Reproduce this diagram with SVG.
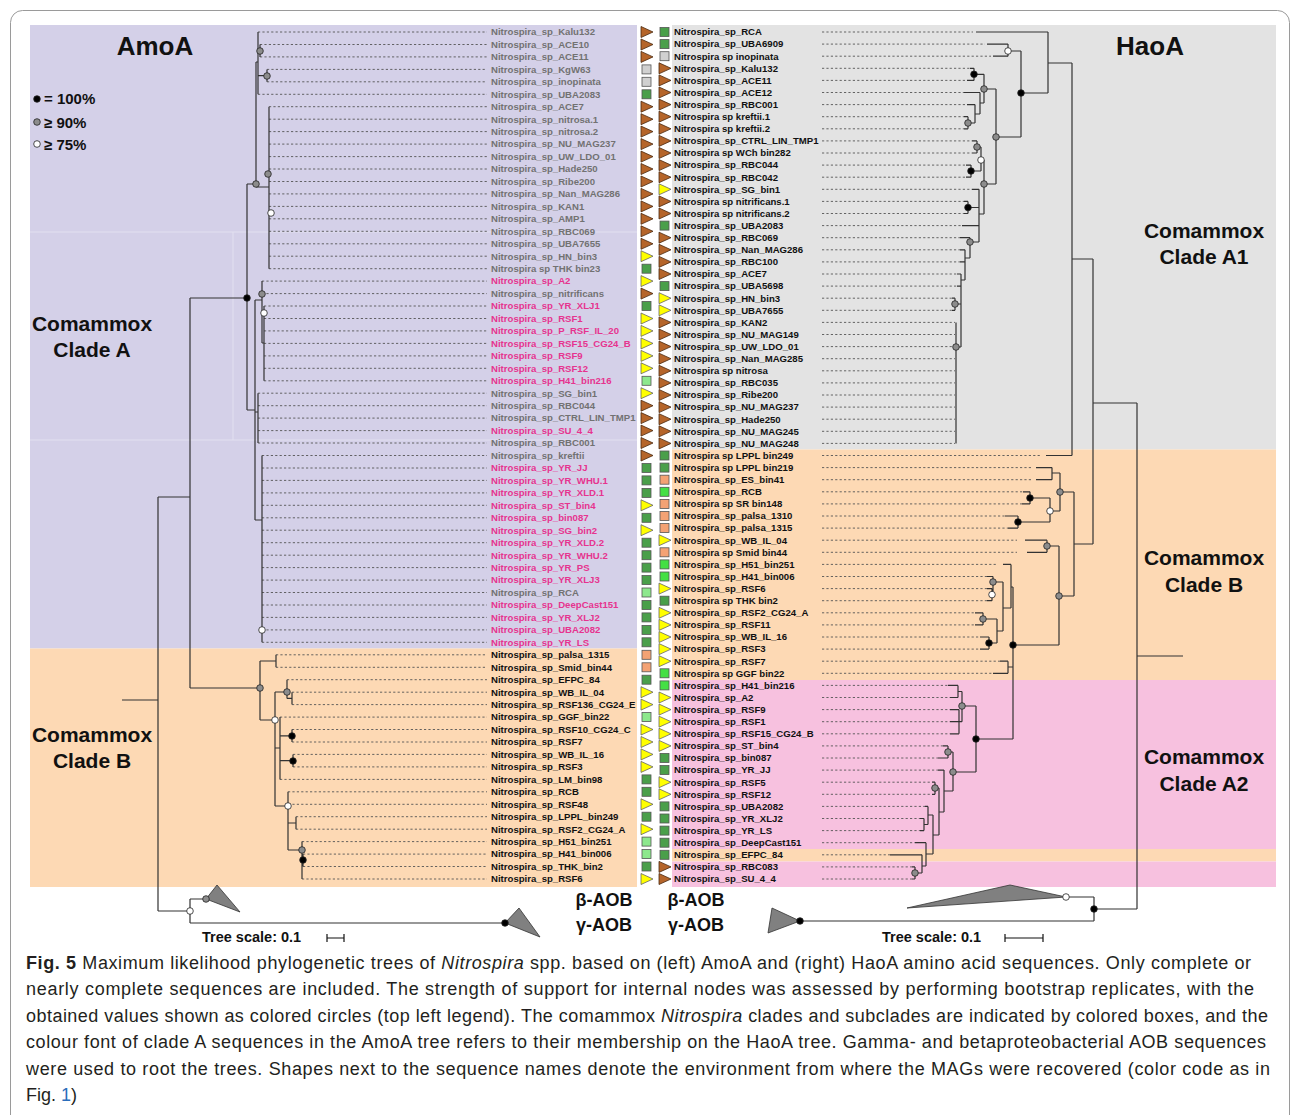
<svg xmlns="http://www.w3.org/2000/svg" width="1292" height="1115" viewBox="0 0 1292 1115">
<style>
.lab{font-family:"Liberation Sans",Arial,sans-serif;font-weight:bold;font-size:9.6px}
.g{fill:#727272}.p{fill:#e6348f}.k{fill:#111}
.title{font-family:"Liberation Sans",Arial,sans-serif;font-weight:bold;font-size:26px;fill:#111;text-anchor:middle}
.clade{font-family:"Liberation Sans",Arial,sans-serif;font-weight:bold;font-size:21px;fill:#111;text-anchor:middle}
.leg{font-family:"Liberation Sans",Arial,sans-serif;font-weight:bold;font-size:15px;fill:#111}
.aob{font-family:"Liberation Sans",Arial,sans-serif;font-weight:bold;font-size:18px;fill:#111;text-anchor:middle}
.sc{font-family:"Liberation Sans",Arial,sans-serif;font-weight:bold;font-size:14.5px;fill:#111}
.cap{font-family:"Liberation Sans",Arial,sans-serif;font-size:18px;fill:#231f20}
.tree{fill:none;stroke:#333;stroke-width:1.2}
.dash{fill:none;stroke:#555;stroke-width:0.9;stroke-dasharray:2.2 2.2}
.cb{fill:#000;stroke:#222;stroke-width:0.8}
.cg{fill:#8c8c8c;stroke:#222;stroke-width:0.8}
.cw{fill:#fff;stroke:#222;stroke-width:0.8}
.tri{fill:#808080;stroke:#333;stroke-width:0.8}
</style>
<defs>
<polygon id="tb" points="0,-5.5 12,0 0,5.5" fill="#b5652a" stroke="#4a2a10" stroke-width="0.8"/>
<polygon id="ty" points="0,-5.5 12,0 0,5.5" fill="#ffff00" stroke="#666" stroke-width="0.8"/>
<rect id="sg" x="0" y="-4.5" width="9" height="9" fill="#4a9f4a" stroke="#555" stroke-width="0.8"/>
<rect id="sl" x="0" y="-4.5" width="9" height="9" fill="#8de88d" stroke="#555" stroke-width="0.8"/>
<rect id="sb" x="0" y="-4.5" width="9" height="9" fill="#44e044" stroke="#555" stroke-width="0.8"/>
<rect id="sx" x="0" y="-4.5" width="9" height="9" fill="#d0d0d0" stroke="#555" stroke-width="0.8"/>
<rect id="so" x="0" y="-4.5" width="9" height="9" fill="#f4a274" stroke="#555" stroke-width="0.8"/>
</defs>
<rect x="0" y="0" width="1292" height="1115" fill="#fff"/>
<rect x="10.5" y="10.5" width="1279" height="1160" rx="12" fill="none" stroke="#9a9a9a" stroke-width="1"/>
<g id="backgrounds">
<rect x="30" y="25" width="607" height="623.5" fill="#d4d0e8"/>
<rect x="30" y="648.5" width="607" height="238.5" fill="#fdd9b4"/>
<path d="M30 232H637M30 440H637M233 232V440" stroke="#e2e0f0" stroke-width="1" fill="none"/>
<rect x="672" y="25" width="604" height="424.5" fill="#e3e3e3"/>
<rect x="672" y="449.5" width="604" height="230.5" fill="#fdd9b4"/>
<rect x="672" y="680" width="604" height="169" fill="#f7c1df"/>
<rect x="672" y="849" width="604" height="12.5" fill="#fdd9b4"/>
<rect x="672" y="861.5" width="604" height="25.5" fill="#f7c1df"/>
</g>
<g id="titles">
<text class="title" x="155" y="55">AmoA</text>
<text class="title" x="1150" y="55">HaoA</text>
<text class="clade" x="92" y="331">Comammox</text><text class="clade" x="92" y="357">Clade A</text>
<text class="clade" x="92" y="742">Comammox</text><text class="clade" x="92" y="768">Clade B</text>
<text class="clade" x="1204" y="238">Comammox</text><text class="clade" x="1204" y="264">Clade A1</text>
<text class="clade" x="1204" y="565">Comammox</text><text class="clade" x="1204" y="592">Clade B</text>
<text class="clade" x="1204" y="764">Comammox</text><text class="clade" x="1204" y="791">Clade A2</text>
</g>
<g id="legend">
<circle class="cb" cx="37" cy="99" r="3.3"/><text class="leg" x="44" y="104">= 100%</text>
<circle class="cg" cx="37" cy="122" r="3.3"/><text class="leg" x="44" y="127.5">≥ 90%</text>
<circle class="cw" cx="37" cy="144" r="3.3"/><text class="leg" x="44" y="149.5">≥ 75%</text>
</g>
<g id="connectors">
<path class="dash" d="M258 32H487M260 44.5H487M260 56.9H487M267 69.4H487M267 81.8H487M258 94.3H487M269 106.7H487M269 119.2H487M269 131.6H487M269 144.1H487M269 156.6H487M269 169H487M269 181.5H487M269 193.9H487M269 206.4H487M269 218.8H487M269 231.3H487M269 243.8H487M269 256.2H487M269 268.7H487M262 281.1H487M262 293.6H487M264 306H487M264 318.5H487M264 330.9H487M264 343.4H487M264 355.9H487M264 368.3H487M264 380.8H487M258 393.2H487M258 405.7H487M258 418.1H487M258 430.6H487M258 443H487M262 455.5H487M262 468H487M262 480.4H487M262 492.9H487M262 505.3H487M262 517.8H487M262 530.2H487M262 542.7H487M262 555.2H487M262 567.6H487M262 580.1H487M262 592.5H487M262 605H487M262 617.4H487M262 629.9H487M262 642.3H487M276 654.8H487M276 667.3H487M287 679.7H487M292 692.2H487M292 704.6H487M280 717.1H487M292 729.5H487M292 742H487M293 754.4H487M293 766.9H487M280 779.4H487M288 791.8H487M288 804.3H487M296 816.7H487M296 829.2H487M302 841.6H487M303 854.1H487M303 866.5H487M302 879H487"/>
<path class="tree" d="M122 700H158M158 497V911M158 497H190M158 911H190M190 298V688M190 298H247M190 688H260M247 184V410M247 184H256M247 410H255M256 62V187M256 62H258M256 187H269M258 32V94.3M258 50.7H260M258 75.6H267M260 44.5V56.9M267 69.4V81.8M269 106.7V268.7M255 300V520M255 300H262M255 412H258M255 520H262M262 281.1V343M262 343H264M264 306V380.8M258 393.2V443M262 455.5V642.3M260 661V720M260 661H276M260 720H275M276 654.8V667.3M275 692V806M275 692H287M275 748H280M275 806H288M287 679.7V698.4M287 698.4H292M292 692.2V704.6M280 717.1V779.4M280 735.8H292M280 760.6H293M292 729.5V742M293 754.4V766.9M288 791.8V850M288 823H296M288 850H302M296 816.7V829.2M302 841.6V879M302 860.3H303M303 854.1V866.5M190 899V923M190 899H206M190 923H505"/>
<path class="dash" d="M822 32H973M822 44.1H985M822 56.2H991M822 68.3H970M822 80.4H967M822 92.5H964M822 104.6H967M822 116.7H964M822 128.8H964M822 140.9H972M822 153H972M822 165.1H966M822 177.2H966M822 189.3H972M822 201.4H964M822 213.5H964M822 225.6H962M822 237.7H960M822 249.8H960M822 261.9H960M822 274H957M822 286.1H957M822 298.2H952M822 310.3H952M822 322.4H955M822 334.5H955M822 346.6H955M822 358.7H955M822 370.8H955M822 382.9H955M822 395H955M822 407.1H955M822 419.2H955M822 431.3H955M822 443.4H955M822 455.5H1042M822 467.6H1032M822 479.7H1032M822 491.8H1023M822 503.9H1022M822 516H1005M822 528.1H1008M822 540.2H1017M822 552.3H1017M822 564.4H998M822 576.5H987M822 588.6H987M822 600.7H987M822 612.8H975M822 624.9H975M822 637H980M822 649.1H980M822 661.2H1000M822 673.3H993M822 685.4H948M822 697.5H950M822 709.6H950M822 721.7H950M822 733.8H950M822 745.9H943M822 758H938M822 770.1H938M822 782.2H932M822 794.3H932M822 806.4H925M822 818.5H920M822 830.6H920M822 842.7H915M822 854.8H890M822 866.9H912M822 879H912"/>
<path class="tree" d="M976 32H1048M987 44.1H1008M993 56.2H1008M970 68.3H974M967 80.4H974M964 92.5H980M967 104.6H975M964 116.7H968M964 128.8H968M972 140.9H977M972 153H977M966 165.1H971M966 177.2H971M972 189.3H979M964 201.4H968M964 213.5H968M962 225.6H979M960 237.7H970M960 249.8H965M960 261.9H965M957 274H961M957 286.1H961M952 298.2H955M952 310.3H955M1046 455.5H1072M1036 467.6H1052M1036 479.7H1052M1023 491.8H1030M1022 503.9H1030M1005 516H1018M1008 528.1H1018M1025 540.2H1047M1027 552.3H1047M1003 564.4H1011M987 576.5H993M987 588.6H992M987 600.7H992M975 612.8H983M975 624.9H983M980 637H989M980 649.1H989M1000 661.2H1008M993 673.3H1008M948 685.4H958M950 697.5H958M950 709.6H959M950 721.7H959M950 733.8H959M943 745.9H948M938 758H948M938 770.1H944M932 782.2H935M932 794.3H935M925 806.4H928M920 818.5H924M920 830.6H924M915 842.7H926M890 854.8H922M912 866.9H915M912 879H915"/>
<path class="tree" d="M1137 403V909M1137 656H1183M1093 403H1137M1094 909H1137M1094 897V921M1066 897H1094M800 921H1094M1093 259V544M1072 259H1093M1074 544H1093M1072 63V455.5M1048 63H1072M1048 32V93M1021 93H1048M1021 51V137M1008 51H1021M996 137H1021M1008 44.1V56.2M996 89V184M984 89H996M984 184H996M984 74.3V103M974 74.3H984M980 103H984M974 68.3V80.4M980 92.5V114M975 114H980M975 104.6V123M968 123H975M968 116.7V128.8M984 160V214M981 160H984M979 214H984M981 147V171M977 147H981M971 171H981M977 140.9V153M971 165.1V177.2M979 189.3V242M968 207.5H979M970 242H979M968 201.4V213.5M970 237.7V258M965 258H970M965 249.8V280M961 280H965M961 274V347M955 304H961M956 347H961M955 298.2V310.3M956 322.4V443.4M1074 492V596M1060 492H1074M1059 596H1074M1060 473V511M1052 473H1060M1050 511H1060M1052 467.6V479.7M1050 498V522M1030 498H1050M1018 522H1050M1030 491.8V503.9M1018 516V528.1M1059 546V645M1047 546H1059M1013 645H1059M1047 540.2V552.3M1013 587V739M1011 587H1013M1008 667H1013M976 739H1013M1011 564.4V608M1003 608H1011M1003 582V631M993 582H1003M997 631H1003M993 576.5V594.6M992 588.6V600.7M997 619V643M983 619H997M989 643H997M983 612.8V624.9M989 637V649.1M1008 661.2V673.3M976 706V772M962 706H976M953 772H976M962 691.5V721.7M958 691.5H962M959 721.7H962M958 685.4V697.5M959 709.6V733.8M953 752V791M948 752H953M944 791H953M948 745.9V758M944 770.1V812M939 812H944M939 788V835M935 788H939M933 835H939M935 782.2V794.3M933 815V854M928 815H933M926 854H933M928 806.4V824.5M924 824.5H928M924 818.5V830.6M926 842.7V866M922 866H926M922 854.8V873M915 873H922M915 866.9V879"/>
</g>
<g id="outgroups">
<polygon class="tri" points="206,899 217,885 240,912"/>
<polygon class="tri" points="505,923 519,908 540,937"/>
<polygon class="tri" points="800,921 772,908 768,933"/>
<polygon class="tri" points="1066,897 1010,885 907,908"/>
<text class="aob" x="604" y="906">β-AOB</text><text class="aob" x="604" y="931">γ-AOB</text>
<text class="aob" x="696" y="906">β-AOB</text><text class="aob" x="696" y="931">γ-AOB</text>
</g>
<g id="support">
<circle class="cb" cx="247" cy="298" r="3.3"/><circle class="cb" cx="292" cy="736" r="3.3"/><circle class="cb" cx="293" cy="761" r="3.3"/><circle class="cb" cx="303" cy="860" r="3.3"/><circle class="cb" cx="505" cy="923" r="3.3"/>
<circle class="cg" cx="256" cy="184" r="3.3"/><circle class="cg" cx="260" cy="51" r="3.3"/><circle class="cg" cx="267" cy="76" r="3.3"/><circle class="cg" cx="268" cy="174" r="3.3"/><circle class="cg" cx="262" cy="294" r="3.3"/><circle class="cg" cx="260" cy="688" r="3.3"/><circle class="cg" cx="287" cy="692" r="3.3"/><circle class="cg" cx="302" cy="850" r="3.3"/><circle class="cg" cx="206" cy="899" r="3.3"/>
<circle class="cw" cx="271" cy="213" r="3.3"/><circle class="cw" cx="264" cy="313" r="3.3"/><circle class="cw" cx="275" cy="720" r="3.3"/><circle class="cw" cx="288" cy="806" r="3.3"/><circle class="cw" cx="190" cy="911" r="3.3"/><circle class="cw" cx="262" cy="630" r="3.3"/>
<circle class="cb" cx="1021" cy="93" r="3.3"/><circle class="cb" cx="974" cy="74.3" r="3.3"/><circle class="cb" cx="971" cy="171" r="3.3"/><circle class="cb" cx="968" cy="207.5" r="3.3"/><circle class="cb" cx="1030" cy="498" r="3.3"/><circle class="cb" cx="1018" cy="522" r="3.3"/><circle class="cb" cx="1013" cy="645" r="3.3"/><circle class="cb" cx="989" cy="643" r="3.3"/><circle class="cb" cx="976" cy="739" r="3.3"/><circle class="cb" cx="1094" cy="909" r="3.3"/><circle class="cb" cx="800" cy="921" r="3.3"/>
<circle class="cg" cx="996" cy="137" r="3.3"/><circle class="cg" cx="984" cy="89" r="3.3"/><circle class="cg" cx="968" cy="123" r="3.3"/><circle class="cg" cx="977" cy="147" r="3.3"/><circle class="cg" cx="984" cy="184" r="3.3"/><circle class="cg" cx="970" cy="242" r="3.3"/><circle class="cg" cx="955" cy="304" r="3.3"/><circle class="cg" cx="956" cy="347" r="3.3"/><circle class="cg" cx="1060" cy="492" r="3.3"/><circle class="cg" cx="1059" cy="596" r="3.3"/><circle class="cg" cx="1047" cy="546" r="3.3"/><circle class="cg" cx="993" cy="582" r="3.3"/><circle class="cg" cx="983" cy="619" r="3.3"/><circle class="cg" cx="962" cy="706" r="3.3"/><circle class="cg" cx="953" cy="772" r="3.3"/><circle class="cg" cx="948" cy="752" r="3.3"/><circle class="cg" cx="935" cy="788" r="3.3"/><circle class="cg" cx="915" cy="873" r="3.3"/>
<circle class="cw" cx="1008" cy="51" r="3.3"/><circle class="cw" cx="981" cy="160" r="3.3"/><circle class="cw" cx="1050" cy="511" r="3.3"/><circle class="cw" cx="992" cy="594.6" r="3.3"/><circle class="cw" cx="1066" cy="897" r="3.3"/>
</g>
<g id="amoa-leaves" class="lab">
<g id="a1"><text class="g" x="491" y="35.3">Nitrospira_sp_Kalu132</text><use href="#tb" x="641" y="32"/></g>
<g id="a2"><text class="g" x="491" y="47.8">Nitrospira_sp_ACE10</text><use href="#tb" x="641" y="44.5"/></g>
<g id="a3"><text class="g" x="491" y="60.2">Nitrospira_sp_ACE11</text><use href="#tb" x="641" y="56.9"/></g>
<g id="a4"><text class="g" x="491" y="72.7">Nitrospira_sp_KgW63</text><use href="#sx" x="642" y="69.4"/></g>
<g id="a5"><text class="g" x="491" y="85.1">Nitrospira_sp_inopinata</text><use href="#sx" x="642" y="81.8"/></g>
<g id="a6"><text class="g" x="491" y="97.6">Nitrospira_sp_UBA2083</text><use href="#sg" x="642" y="94.3"/></g>
<g id="a7"><text class="g" x="491" y="110">Nitrospira_sp_ACE7</text><use href="#tb" x="641" y="106.7"/></g>
<g id="a8"><text class="g" x="491" y="122.5">Nitrospira_sp_nitrosa.1</text><use href="#tb" x="641" y="119.2"/></g>
<g id="a9"><text class="g" x="491" y="134.9">Nitrospira_sp_nitrosa.2</text><use href="#tb" x="641" y="131.6"/></g>
<g id="a10"><text class="g" x="491" y="147.4">Nitrospira_sp_NU_MAG237</text><use href="#tb" x="641" y="144.1"/></g>
<g id="a11"><text class="g" x="491" y="159.9">Nitrospira_sp_UW_LDO_01</text><use href="#tb" x="641" y="156.6"/></g>
<g id="a12"><text class="g" x="491" y="172.3">Nitrospira_sp_Hade250</text><use href="#tb" x="641" y="169"/></g>
<g id="a13"><text class="g" x="491" y="184.8">Nitrospira_sp_Ribe200</text><use href="#tb" x="641" y="181.5"/></g>
<g id="a14"><text class="g" x="491" y="197.2">Nitrospira_sp_Nan_MAG286</text><use href="#tb" x="641" y="193.9"/></g>
<g id="a15"><text class="g" x="491" y="209.7">Nitrospira_sp_KAN1</text><use href="#tb" x="641" y="206.4"/></g>
<g id="a16"><text class="g" x="491" y="222.1">Nitrospira_sp_AMP1</text><use href="#tb" x="641" y="218.8"/></g>
<g id="a17"><text class="g" x="491" y="234.6">Nitrospira_sp_RBC069</text><use href="#tb" x="641" y="231.3"/></g>
<g id="a18"><text class="g" x="491" y="247.1">Nitrospira_sp_UBA7655</text><use href="#tb" x="641" y="243.8"/></g>
<g id="a19"><text class="g" x="491" y="259.5">Nitrospira_sp_HN_bin3</text><use href="#ty" x="641" y="256.2"/></g>
<g id="a20"><text class="g" x="491" y="272">Nitrospira sp THK bin23</text><use href="#sg" x="642" y="268.7"/></g>
<g id="a21"><text class="p" x="491" y="284.4">Nitrospira_sp_A2</text><use href="#ty" x="641" y="281.1"/></g>
<g id="a22"><text class="g" x="491" y="296.9">Nitrospira_sp_nitrificans</text><use href="#tb" x="641" y="293.6"/></g>
<g id="a23"><text class="p" x="491" y="309.3">Nitrospira_sp_YR_XLJ1</text><use href="#sg" x="642" y="306"/></g>
<g id="a24"><text class="p" x="491" y="321.8">Nitrospira_sp_RSF1</text><use href="#ty" x="641" y="318.5"/></g>
<g id="a25"><text class="p" x="491" y="334.2">Nitrospira_sp_P_RSF_IL_20</text><use href="#ty" x="641" y="330.9"/></g>
<g id="a26"><text class="p" x="491" y="346.7">Nitrospira_sp_RSF15_CG24_B</text><use href="#ty" x="641" y="343.4"/></g>
<g id="a27"><text class="p" x="491" y="359.2">Nitrospira_sp_RSF9</text><use href="#ty" x="641" y="355.9"/></g>
<g id="a28"><text class="p" x="491" y="371.6">Nitrospira_sp_RSF12</text><use href="#ty" x="641" y="368.3"/></g>
<g id="a29"><text class="p" x="491" y="384.1">Nitrospira_sp_H41_bin216</text><use href="#sl" x="642" y="380.8"/></g>
<g id="a30"><text class="g" x="491" y="396.5">Nitrospira_sp_SG_bin1</text><use href="#ty" x="641" y="393.2"/></g>
<g id="a31"><text class="g" x="491" y="409">Nitrospira_sp_RBC044</text><use href="#tb" x="641" y="405.7"/></g>
<g id="a32"><text class="g" x="491" y="421.4">Nitrospira_sp_CTRL_LIN_TMP1</text><use href="#tb" x="641" y="418.1"/></g>
<g id="a33"><text class="p" x="491" y="433.9">Nitrospira_sp_SU_4_4</text><use href="#tb" x="641" y="430.6"/></g>
<g id="a34"><text class="g" x="491" y="446.3">Nitrospira_sp_RBC001</text><use href="#tb" x="641" y="443"/></g>
<g id="a35"><text class="g" x="491" y="458.8">Nitrospira_sp_kreftii</text><use href="#tb" x="641" y="455.5"/></g>
<g id="a36"><text class="p" x="491" y="471.3">Nitrospira_sp_YR_JJ</text><use href="#sg" x="642" y="468"/></g>
<g id="a37"><text class="p" x="491" y="483.7">Nitrospira_sp_YR_WHU.1</text><use href="#sg" x="642" y="480.4"/></g>
<g id="a38"><text class="p" x="491" y="496.2">Nitrospira_sp_YR_XLD.1</text><use href="#sg" x="642" y="492.9"/></g>
<g id="a39"><text class="p" x="491" y="508.6">Nitrospira_sp_ST_bin4</text><use href="#ty" x="641" y="505.3"/></g>
<g id="a40"><text class="p" x="491" y="521.1">Nitrospira_sp_bin087</text><use href="#sg" x="642" y="517.8"/></g>
<g id="a41"><text class="p" x="491" y="533.5">Nitrospira_sp_SG_bin2</text><use href="#ty" x="641" y="530.2"/></g>
<g id="a42"><text class="p" x="491" y="546">Nitrospira_sp_YR_XLD.2</text><use href="#sg" x="642" y="542.7"/></g>
<g id="a43"><text class="p" x="491" y="558.5">Nitrospira_sp_YR_WHU.2</text><use href="#sg" x="642" y="555.2"/></g>
<g id="a44"><text class="p" x="491" y="570.9">Nitrospira_sp_YR_PS</text><use href="#sg" x="642" y="567.6"/></g>
<g id="a45"><text class="p" x="491" y="583.4">Nitrospira_sp_YR_XLJ3</text><use href="#sg" x="642" y="580.1"/></g>
<g id="a46"><text class="g" x="491" y="595.8">Nitrospira_sp_RCA</text><use href="#sl" x="642" y="592.5"/></g>
<g id="a47"><text class="p" x="491" y="608.3">Nitrospira_sp_DeepCast151</text><use href="#sg" x="642" y="605"/></g>
<g id="a48"><text class="p" x="491" y="620.7">Nitrospira_sp_YR_XLJ2</text><use href="#sg" x="642" y="617.4"/></g>
<g id="a49"><text class="p" x="491" y="633.2">Nitrospira_sp_UBA2082</text><use href="#sg" x="642" y="629.9"/></g>
<g id="a50"><text class="p" x="491" y="645.6">Nitrospira_sp_YR_LS</text><use href="#sg" x="642" y="642.3"/></g>
<g id="a51"><text class="k" x="491" y="658.1">Nitrospira_sp_palsa_1315</text><use href="#so" x="642" y="654.8"/></g>
<g id="a52"><text class="k" x="491" y="670.6">Nitrospira_sp_Smid_bin44</text><use href="#so" x="642" y="667.3"/></g>
<g id="a53"><text class="k" x="491" y="683">Nitrospira_sp_EFPC_84</text><use href="#sg" x="642" y="679.7"/></g>
<g id="a54"><text class="k" x="491" y="695.5">Nitrospira_sp_WB_IL_04</text><use href="#ty" x="641" y="692.2"/></g>
<g id="a55"><text class="k" x="491" y="707.9">Nitrospira_sp_RSF136_CG24_E</text><use href="#ty" x="641" y="704.6"/></g>
<g id="a56"><text class="k" x="491" y="720.4">Nitrospira_sp_GGF_bin22</text><use href="#sl" x="642" y="717.1"/></g>
<g id="a57"><text class="k" x="491" y="732.8">Nitrospira_sp_RSF10_CG24_C</text><use href="#ty" x="641" y="729.5"/></g>
<g id="a58"><text class="k" x="491" y="745.3">Nitrospira_sp_RSF7</text><use href="#ty" x="641" y="742"/></g>
<g id="a59"><text class="k" x="491" y="757.7">Nitrospira_sp_WB_IL_16</text><use href="#ty" x="641" y="754.4"/></g>
<g id="a60"><text class="k" x="491" y="770.2">Nitrospira_sp_RSF3</text><use href="#ty" x="641" y="766.9"/></g>
<g id="a61"><text class="k" x="491" y="782.7">Nitrospira_sp_LM_bin98</text><use href="#sg" x="642" y="779.4"/></g>
<g id="a62"><text class="k" x="491" y="795.1">Nitrospira_sp_RCB</text><use href="#sg" x="642" y="791.8"/></g>
<g id="a63"><text class="k" x="491" y="807.6">Nitrospira_sp_RSF48</text><use href="#ty" x="641" y="804.3"/></g>
<g id="a64"><text class="k" x="491" y="820">Nitrospira_sp_LPPL_bin249</text><use href="#sg" x="642" y="816.7"/></g>
<g id="a65"><text class="k" x="491" y="832.5">Nitrospira_sp_RSF2_CG24_A</text><use href="#ty" x="641" y="829.2"/></g>
<g id="a66"><text class="k" x="491" y="844.9">Nitrospira_sp_H51_bin251</text><use href="#sl" x="642" y="841.6"/></g>
<g id="a67"><text class="k" x="491" y="857.4">Nitrospira_sp_H41_bin006</text><use href="#sl" x="642" y="854.1"/></g>
<g id="a68"><text class="k" x="491" y="869.8">Nitrospira_sp_THK_bin2</text><use href="#sg" x="642" y="866.5"/></g>
<g id="a69"><text class="k" x="491" y="882.3">Nitrospira_sp_RSF6</text><use href="#ty" x="641" y="879"/></g>
</g>
<g id="haoa-leaves" class="lab k">
<g id="h1"><text x="674" y="35.3">Nitrospira_sp_RCA</text><use href="#sg" x="660" y="32"/></g>
<g id="h2"><text x="674" y="47.4">Nitrospira_sp_UBA6909</text><use href="#sg" x="660" y="44.1"/></g>
<g id="h3"><text x="674" y="59.5">Nitrospira sp inopinata</text><use href="#sx" x="660" y="56.2"/></g>
<g id="h4"><text x="674" y="71.6">Nitrospira_sp_Kalu132</text><use href="#tb" x="659" y="68.3"/></g>
<g id="h5"><text x="674" y="83.7">Nitrospira_sp_ACE11</text><use href="#tb" x="659" y="80.4"/></g>
<g id="h6"><text x="674" y="95.8">Nitrospira_sp_ACE12</text><use href="#tb" x="659" y="92.5"/></g>
<g id="h7"><text x="674" y="107.9">Nitrospira_sp_RBC001</text><use href="#tb" x="659" y="104.6"/></g>
<g id="h8"><text x="674" y="120">Nitrospira sp kreftii.1</text><use href="#tb" x="659" y="116.7"/></g>
<g id="h9"><text x="674" y="132.1">Nitrospira sp kreftii.2</text><use href="#tb" x="659" y="128.8"/></g>
<g id="h10"><text x="674" y="144.2">Nitrospira_sp_CTRL_LIN_TMP1</text><use href="#tb" x="659" y="140.9"/></g>
<g id="h11"><text x="674" y="156.3">Nitrospira sp WCh bin282</text><use href="#tb" x="659" y="153"/></g>
<g id="h12"><text x="674" y="168.4">Nitrospira_sp_RBC044</text><use href="#tb" x="659" y="165.1"/></g>
<g id="h13"><text x="674" y="180.5">Nitrospira_sp_RBC042</text><use href="#tb" x="659" y="177.2"/></g>
<g id="h14"><text x="674" y="192.6">Nitrospira_sp_SG_bin1</text><use href="#ty" x="659" y="189.3"/></g>
<g id="h15"><text x="674" y="204.7">Nitrospira sp nitrificans.1</text><use href="#tb" x="659" y="201.4"/></g>
<g id="h16"><text x="674" y="216.8">Nitrospira sp nitrificans.2</text><use href="#tb" x="659" y="213.5"/></g>
<g id="h17"><text x="674" y="228.9">Nitrospira_sp_UBA2083</text><use href="#sg" x="660" y="225.6"/></g>
<g id="h18"><text x="674" y="241">Nitrospira_sp_RBC069</text><use href="#tb" x="659" y="237.7"/></g>
<g id="h19"><text x="674" y="253.1">Nitrospira_sp_Nan_MAG286</text><use href="#tb" x="659" y="249.8"/></g>
<g id="h20"><text x="674" y="265.2">Nitrospira_sp_RBC100</text><use href="#tb" x="659" y="261.9"/></g>
<g id="h21"><text x="674" y="277.3">Nitrospira_sp_ACE7</text><use href="#tb" x="659" y="274"/></g>
<g id="h22"><text x="674" y="289.4">Nitrospira_sp_UBA5698</text><use href="#sg" x="660" y="286.1"/></g>
<g id="h23"><text x="674" y="301.5">Nitrospira_sp_HN_bin3</text><use href="#ty" x="659" y="298.2"/></g>
<g id="h24"><text x="674" y="313.6">Nitrospira_sp_UBA7655</text><use href="#ty" x="659" y="310.3"/></g>
<g id="h25"><text x="674" y="325.7">Nitrospira_sp_KAN2</text><use href="#tb" x="659" y="322.4"/></g>
<g id="h26"><text x="674" y="337.8">Nitrospira_sp_NU_MAG149</text><use href="#tb" x="659" y="334.5"/></g>
<g id="h27"><text x="674" y="349.9">Nitrospira_sp_UW_LDO_01</text><use href="#tb" x="659" y="346.6"/></g>
<g id="h28"><text x="674" y="362">Nitrospira_sp_Nan_MAG285</text><use href="#tb" x="659" y="358.7"/></g>
<g id="h29"><text x="674" y="374.1">Nitrospira sp nitrosa</text><use href="#tb" x="659" y="370.8"/></g>
<g id="h30"><text x="674" y="386.2">Nitrospira_sp_RBC035</text><use href="#tb" x="659" y="382.9"/></g>
<g id="h31"><text x="674" y="398.3">Nitrospira_sp_Ribe200</text><use href="#tb" x="659" y="395"/></g>
<g id="h32"><text x="674" y="410.4">Nitrospira_sp_NU_MAG237</text><use href="#tb" x="659" y="407.1"/></g>
<g id="h33"><text x="674" y="422.5">Nitrospira_sp_Hade250</text><use href="#tb" x="659" y="419.2"/></g>
<g id="h34"><text x="674" y="434.6">Nitrospira_sp_NU_MAG245</text><use href="#tb" x="659" y="431.3"/></g>
<g id="h35"><text x="674" y="446.7">Nitrospira_sp_NU_MAG248</text><use href="#tb" x="659" y="443.4"/></g>
<g id="h36"><text x="674" y="458.8">Nitrospira sp LPPL bin249</text><use href="#sg" x="660" y="455.5"/></g>
<g id="h37"><text x="674" y="470.9">Nitrospira sp LPPL bin219</text><use href="#sg" x="660" y="467.6"/></g>
<g id="h38"><text x="674" y="483">Nitrospira_sp_ES_bin41</text><use href="#so" x="660" y="479.7"/></g>
<g id="h39"><text x="674" y="495.1">Nitrospira_sp_RCB</text><use href="#sb" x="660" y="491.8"/></g>
<g id="h40"><text x="674" y="507.2">Nitrospira sp SR bin148</text><use href="#so" x="660" y="503.9"/></g>
<g id="h41"><text x="674" y="519.3">Nitrospira_sp_palsa_1310</text><use href="#so" x="660" y="516"/></g>
<g id="h42"><text x="674" y="531.4">Nitrospira_sp_palsa_1315</text><use href="#so" x="660" y="528.1"/></g>
<g id="h43"><text x="674" y="543.5">Nitrospira_sp_WB_IL_04</text><use href="#ty" x="659" y="540.2"/></g>
<g id="h44"><text x="674" y="555.6">Nitrospira sp Smid bin44</text><use href="#so" x="660" y="552.3"/></g>
<g id="h45"><text x="674" y="567.7">Nitrospira_sp_H51_bin251</text><use href="#sb" x="660" y="564.4"/></g>
<g id="h46"><text x="674" y="579.8">Nitrospira_sp_H41_bin006</text><use href="#sb" x="660" y="576.5"/></g>
<g id="h47"><text x="674" y="591.9">Nitrospira_sp_RSF6</text><use href="#ty" x="659" y="588.6"/></g>
<g id="h48"><text x="674" y="604">Nitrospira sp THK bin2</text><use href="#sg" x="660" y="600.7"/></g>
<g id="h49"><text x="674" y="616.1">Nitrospira_sp_RSF2_CG24_A</text><use href="#ty" x="659" y="612.8"/></g>
<g id="h50"><text x="674" y="628.2">Nitrospira_sp_RSF11</text><use href="#ty" x="659" y="624.9"/></g>
<g id="h51"><text x="674" y="640.3">Nitrospira_sp_WB_IL_16</text><use href="#ty" x="659" y="637"/></g>
<g id="h52"><text x="674" y="652.4">Nitrospira_sp_RSF3</text><use href="#ty" x="659" y="649.1"/></g>
<g id="h53"><text x="674" y="664.5">Nitrospira_sp_RSF7</text><use href="#ty" x="659" y="661.2"/></g>
<g id="h54"><text x="674" y="676.6">Nitrospira sp GGF bin22</text><use href="#sb" x="660" y="673.3"/></g>
<g id="h55"><text x="674" y="688.7">Nitrospira_sp_H41_bin216</text><use href="#sb" x="660" y="685.4"/></g>
<g id="h56"><text x="674" y="700.8">Nitrospira_sp_A2</text><use href="#ty" x="659" y="697.5"/></g>
<g id="h57"><text x="674" y="712.9">Nitrospira_sp_RSF9</text><use href="#ty" x="659" y="709.6"/></g>
<g id="h58"><text x="674" y="725">Nitrospira_sp_RSF1</text><use href="#ty" x="659" y="721.7"/></g>
<g id="h59"><text x="674" y="737.1">Nitrospira_sp_RSF15_CG24_B</text><use href="#ty" x="659" y="733.8"/></g>
<g id="h60"><text x="674" y="749.2">Nitrospira_sp_ST_bin4</text><use href="#ty" x="659" y="745.9"/></g>
<g id="h61"><text x="674" y="761.3">Nitrospira_sp_bin087</text><use href="#sg" x="660" y="758"/></g>
<g id="h62"><text x="674" y="773.4">Nitrospira_sp_YR_JJ</text><use href="#sg" x="660" y="770.1"/></g>
<g id="h63"><text x="674" y="785.5">Nitrospira_sp_RSF5</text><use href="#ty" x="659" y="782.2"/></g>
<g id="h64"><text x="674" y="797.6">Nitrospira_sp_RSF12</text><use href="#ty" x="659" y="794.3"/></g>
<g id="h65"><text x="674" y="809.7">Nitrospira_sp_UBA2082</text><use href="#sg" x="660" y="806.4"/></g>
<g id="h66"><text x="674" y="821.8">Nitrospira_sp_YR_XLJ2</text><use href="#sg" x="660" y="818.5"/></g>
<g id="h67"><text x="674" y="833.9">Nitrospira_sp_YR_LS</text><use href="#sg" x="660" y="830.6"/></g>
<g id="h68"><text x="674" y="846">Nitrospira_sp_DeepCast151</text><use href="#sg" x="660" y="842.7"/></g>
<g id="h69"><text x="674" y="858.1">Nitrospira_sp_EFPC_84</text><use href="#sg" x="660" y="854.8"/></g>
<g id="h70"><text x="674" y="870.2">Nitrospira_sp_RBC083</text><use href="#tb" x="659" y="866.9"/></g>
<g id="h71"><text x="674" y="882.3">Nitrospira_sp_SU_4_4</text><use href="#tb" x="659" y="879"/></g>
</g>
<g id="scales">
<text class="sc" x="202" y="942">Tree scale: 0.1</text>
<path d="M327 938H344M327 934V942M344 934V942" stroke="#111" stroke-width="1.2" fill="none"/>
<text class="sc" x="882" y="942">Tree scale: 0.1</text>
<path d="M1005 938H1043M1005 934V942M1043 934V942" stroke="#111" stroke-width="1.2" fill="none"/>
</g>
<g id="caption" class="cap">
<text x="26" y="969" textLength="1225" lengthAdjust="spacing"><tspan font-weight="bold">Fig. 5</tspan>  Maximum likelihood phylogenetic trees of <tspan font-style="italic">Nitrospira</tspan> spp. based on (left) AmoA and (right) HaoA amino acid sequences. Only complete or</text>
<text x="26" y="995" textLength="1228" lengthAdjust="spacing">nearly complete sequences are included. The strength of support for internal nodes was assessed by performing bootstrap replicates, with the</text>
<text x="26" y="1022" textLength="1242" lengthAdjust="spacing">obtained values shown as colored circles (top left legend). The comammox <tspan font-style="italic">Nitrospira</tspan> clades and subclades are indicated by colored boxes, and the</text>
<text x="26" y="1048" textLength="1240" lengthAdjust="spacing">colour font of clade A sequences in the AmoA tree refers to their membership on the HaoA tree. Gamma- and betaproteobacterial AOB sequences</text>
<text x="26" y="1075" textLength="1244" lengthAdjust="spacing">were used to root the trees. Shapes next to the sequence names denote the environment from where the MAGs were recovered (color code as in</text>
<text x="26" y="1101">Fig. <tspan fill="#2a6ebb">1</tspan>)</text>
</g>
</svg>
